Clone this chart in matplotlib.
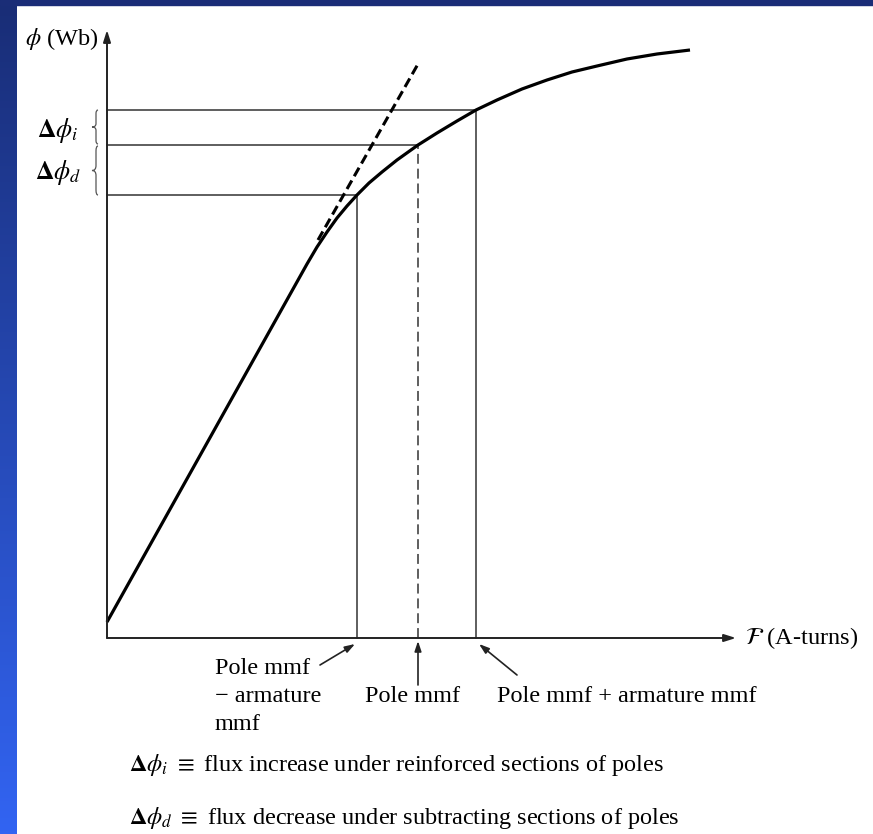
import numpy as np
import matplotlib
matplotlib.use("Agg")
import matplotlib.pyplot as plt
from matplotlib.path import Path
from matplotlib.patches import PathPatch, Rectangle

plt.rcParams['font.family'] = ['Liberation Serif', 'DejaVu Serif']
plt.rcParams['mathtext.fontset'] = 'stix'

# magnetization curve (mmf in A-turns, flux in Wb, arbitrary units)
mmf = [0, 200, 210, 220, 230, 240, 250, 262, 275, 290, 311, 330, 350, 369, 390,
       415, 440, 465, 490, 520, 550, 583]
flux = [16, 374, 391, 406, 420, 432, 443, 455, 466, 478, 493, 505, 517, 528, 538,
        549, 558, 566, 572, 579, 584, 588]

# linear extension of the unsaturated part
tangent_mmf = [211, 311]
tangent_flux = [398, 574]

# pole mmf - armature mmf, pole mmf, pole mmf + armature mmf
op_mmf = [250, 311, 369]
op_flux = [443, 493, 528]

fig = plt.figure(figsize=(8.73, 8.34), dpi=100)
fig.patch.set_facecolor('white')

# blue slide border
band = fig.add_axes([0, 0, 17 / 873, 1])
grad = np.linspace(0, 1, 256).reshape(-1, 1)
cmap = matplotlib.colors.LinearSegmentedColormap.from_list('b', ['#192d76', '#3264f2'])
band.imshow(grad, aspect='auto', cmap=cmap, origin='upper')
band.axis('off')
fig.patches.append(Rectangle((0, 1 - 5 / 834), 1, 5 / 834, transform=fig.transFigure,
                             color='#1a2d77', zorder=5))

ax = fig.add_axes([17 / 873, 0, 856 / 873, 1 - 5 / 834])
ax.set_xlim(-90, 766)
ax.set_ylim(-196, 633)
ax.axis('off')

# axes with arrows
arrow = dict(arrowstyle='-|>,head_length=0.7,head_width=0.22', lw=1.4, color='#222',
             shrinkA=0, shrinkB=0)
ax.annotate('', xy=(0, 608), xytext=(0, 0), arrowprops=arrow)
ax.annotate('', xy=(629, 0), xytext=(0, 0), arrowprops=arrow)

# construction lines
for i, (x, y) in enumerate(zip(op_mmf, op_flux)):
    ax.plot([0, x], [y, y], color='#333', lw=1.1)
    if i == 1:
        ax.plot([x, x], [0, y], color='#333', lw=1.1, linestyle=(0, (6.5, 3.2)))
    else:
        ax.plot([x, x], [0, y], color='#333', lw=1.1)

ax.plot(tangent_mmf, tangent_flux, color='black', lw=2.2, linestyle=(0, (3.2, 1.6)))
ax.plot(mmf, flux, color='black', lw=2.3, solid_capstyle='butt', solid_joinstyle='round')


def brace(x0, yt, yb, w=4):
    ym = (yt + yb) / 2
    h = (yt - yb) / 2
    verts = [(x0 + 0.5 * w, yt), (x0, yt), (x0, yt - 0.2 * h),
             (x0, ym + 0.2 * h), (x0, ym), (x0 - w, ym),
             (x0, ym), (x0, ym - 0.2 * h),
             (x0, yb + 0.2 * h), (x0, yb), (x0 + 0.5 * w, yb)]
    codes = [Path.MOVETO, Path.CURVE3, Path.CURVE3,
             Path.LINETO, Path.CURVE3, Path.CURVE3,
             Path.CURVE3, Path.CURVE3,
             Path.LINETO, Path.CURVE3, Path.CURVE3]
    ax.add_patch(PathPatch(Path(verts, codes), fill=False, lw=0.9, color='#555'))


brace(-11, op_flux[2], op_flux[1] + 1)
brace(-11, op_flux[1] - 1, op_flux[0])

fs = 17.5
ax.text(-45, 599, r'$\phi$ (Wb)', fontsize=fs, ha='center', va='center')
ax.text(-49, 508, r'$\mathbf{\Delta}\phi_i$', fontsize=fs + 1, ha='center', va='center')
ax.text(-49, 466, r'$\mathbf{\Delta}\phi_d$', fontsize=fs + 1, ha='center', va='center')
ax.text(638, 0, r'$\mathcal{F}$ (A-turns)', fontsize=fs, ha='left', va='center')

ax.text(108, -30, 'Pole mmf', fontsize=fs, ha='left', va='center')
ax.text(108, -59, '\u2212 armature', fontsize=fs, ha='left', va='center')
ax.text(108, -86, 'mmf', fontsize=fs, ha='left', va='center')
ax.text(258, -59, 'Pole mmf', fontsize=fs, ha='left', va='center')
ax.text(390, -59, 'Pole mmf + armature mmf', fontsize=fs, ha='left', va='center')

small = dict(arrowstyle='-|>,head_length=0.6,head_width=0.2', lw=1.2, color='#222',
             shrinkA=0, shrinkB=0)
ax.annotate('', xy=(op_mmf[0] - 2, -6), xytext=(213, -27), arrowprops=small)
ax.annotate('', xy=(op_mmf[1], -3), xytext=(op_mmf[1], -47), arrowprops=small)
ax.annotate('', xy=(op_mmf[2] + 3, -6), xytext=(410, -37), arrowprops=small)

ax.text(22, -127, r'$\mathbf{\Delta}\phi_i$ $\equiv$ flux increase under reinforced sections of poles',
        fontsize=fs, ha='left', va='center')
ax.text(22, -180, r'$\mathbf{\Delta}\phi_d$ $\equiv$ flux decrease under subtracting sections of poles',
        fontsize=fs, ha='left', va='center')

fig.savefig('out.png', dpi=100)
